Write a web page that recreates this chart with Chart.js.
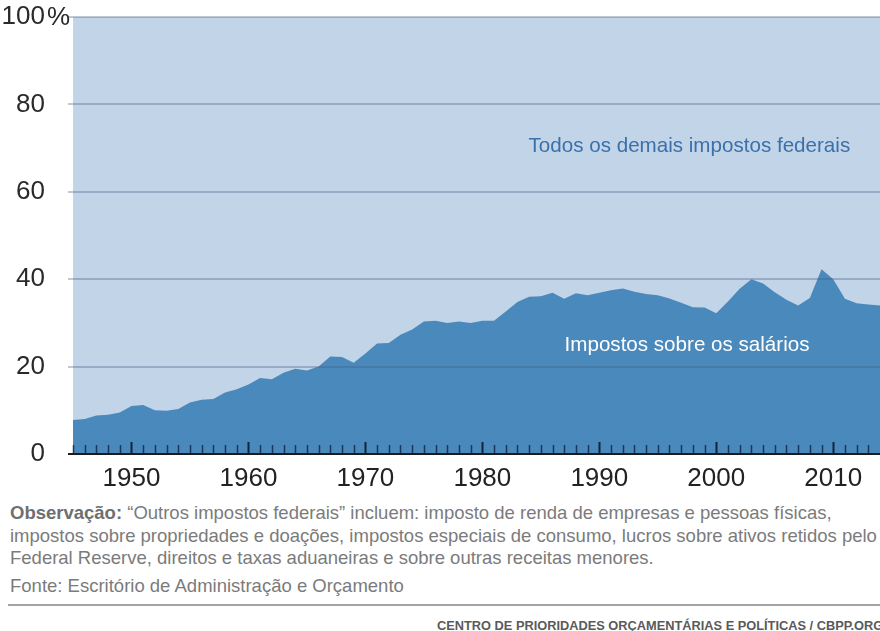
<!DOCTYPE html>
<html lang="pt">
<head>
<meta charset="utf-8">
<title>Impostos sobre os salários</title>
<script src="https://cdn.jsdelivr.net/npm/chart.js@4/dist/chart.umd.min.js"></script>
<style>
  html, body { margin: 0; padding: 0; background: #fff; overflow: hidden; }
  #wrap { position: relative; width: 880px; height: 631px; overflow: hidden; }
  #chartBox { position: absolute; left: 0; top: 0; width: 880px; height: 490px; }
  .note { position: absolute; left: 10px; font-family: 'Liberation Sans', Arial, sans-serif;
          font-size: 18.5px; line-height: 22.5px; color: #7b7b7b; white-space: nowrap; }
  .note b { color: #6f6f6f; }
  #rule { position: absolute; left: 8px; top: 604px; width: 872px; height: 2px; background: #a3a3a3; }
  #credit { position: absolute; left: 437px; top: 618px; font-family: 'Liberation Sans', Arial, sans-serif;
            font-size: 12.8px; font-weight: bold; color: #5a5a5a; white-space: nowrap; }
</style>
</head>
<body>
<div id="wrap">
  <div id="chartBox"><canvas id="chart"></canvas></div>
  <div class="note" style="top:502px"><b>Observação:</b> “Outros impostos federais” incluem: imposto de renda de empresas e pessoas físicas,<br>impostos sobre propriedades e doações, impostos especiais de consumo, lucros sobre ativos retidos pelo<br>Federal Reserve, direitos e taxas aduaneiras e sobre outras receitas menores.</div>
  <div class="note" style="top:575px">Fonte: Escritório de Administração e Orçamento</div>
  <div id="rule"></div>
  <div id="credit">CENTRO DE PRIORIDADES ORÇAMENTÁRIAS E POLÍTICAS / CBPP.ORG</div>
</div>
<script>
// ── Data (% of federal revenue from payroll taxes) ────────────────────────────
const years = [
  1945, 1946, 1947, 1948, 1949, 1950, 1951, 1952, 1953, 1954,
  1955, 1956, 1957, 1958, 1959, 1960, 1961, 1962, 1963, 1964,
  1965, 1966, 1967, 1968, 1969, 1970, 1971, 1972, 1973, 1974,
  1975, 1976, 1977, 1978, 1979, 1980, 1981, 1982, 1983, 1984,
  1985, 1986, 1987, 1988, 1989, 1990, 1991, 1992, 1993, 1994,
  1995, 1996, 1997, 1998, 1999, 2000, 2001, 2002, 2003, 2004,
  2005, 2006, 2007, 2008, 2009, 2010, 2011, 2012, 2013, 2014
];
const payrollShare = [
  7.8, 8.0, 8.8, 9.0, 9.5, 11.0, 11.2, 10.0, 9.9, 10.3,
  11.8, 12.4, 12.6, 14.1, 14.8, 15.9, 17.4, 17.1, 18.6, 19.5,
  19.1, 20.0, 22.3, 22.2, 20.9, 23.0, 25.3, 25.4, 27.3, 28.5,
  30.3, 30.5, 30.0, 30.3, 30.0, 30.5, 30.5, 32.6, 34.8, 36.0,
  36.1, 36.9, 35.5, 36.8, 36.3, 36.9, 37.5, 37.9, 37.1, 36.6,
  36.3, 35.6, 34.6, 33.6, 33.5, 32.2, 34.9, 37.8, 40.0, 39.0,
  37.0, 35.3, 34.0, 35.7, 42.3, 40.0, 35.5, 34.5, 34.2, 34.0
];
const xTickLabels = [1950, 1960, 1970, 1980, 1990, 2000, 2010];
const yTickLabels = [0, 20, 40, 60, 80, 100];
const seriesNames = ['Impostos sobre os salários', 'Todos os demais impostos federais'];

// ── Colours ───────────────────────────────────────────────────────────────────
const DARK_BLUE = '#4a89bc';
const LIGHT_BLUE = '#c2d4e8';
const TICK_FONT = "'Liberation Sans Narrow', 'Arial Narrow', sans-serif";

// ── Plugin: plot background, year ticks, area labels, % sign ─────────────────
const decorations = {
  id: 'decorations',
  beforeDraw(chart) {
    const { ctx, chartArea: a } = chart;
    ctx.save();
    ctx.fillStyle = LIGHT_BLUE;
    ctx.fillRect(a.left, a.top, a.right - a.left, a.bottom - a.top);
    ctx.restore();
  },
  afterDatasetsDraw(chart) {
    const { ctx, chartArea: a } = chart;
    const xs = chart.scales.x, ys = chart.scales.y;
    ctx.save();
    // small year ticks standing on the axis
    years.forEach(yr => {
      const px = Math.round(xs.getPixelForValue(yr)) + 0.5;
      if (px > a.right) return;
      const major = yr % 10 === 0;
      ctx.strokeStyle = major ? 'rgba(15,30,50,0.95)' : 'rgba(20,40,70,0.85)';
      ctx.lineWidth = major ? 2 : 1.5;
      ctx.beginPath();
      ctx.moveTo(px, a.bottom);
      ctx.lineTo(px, a.bottom - (major ? 12 : 9));
      ctx.stroke();
    });
    // area labels
    ctx.font = "20.6px 'Liberation Sans', Arial, sans-serif";
    ctx.textAlign = 'center';
    ctx.textBaseline = 'middle';
    ctx.fillStyle = '#3a71aa';
    ctx.fillText(seriesNames[1], xs.getPixelForValue(1997.7), ys.getPixelForValue(70.3));
    ctx.fillStyle = '#ffffff';
    ctx.fillText(seriesNames[0], xs.getPixelForValue(1997.5), ys.getPixelForValue(24.9));
    ctx.restore();
  },
  afterDraw(chart) {
    const { ctx } = chart;
    const ys = chart.scales.y;
    ctx.save();
    ctx.font = '26px ' + TICK_FONT;
    ctx.fillStyle = '#2a2a2a';
    ctx.textAlign = 'left';
    ctx.textBaseline = 'middle';
    ctx.fillText('%', ys.right - 5 - 23 + 2, ys.getPixelForValue(100) + 1);
    ctx.restore();
  }
};

new Chart(document.getElementById('chart'), {
  type: 'line',
  data: {
    datasets: [{
      label: seriesNames[0],
      data: years.map((yr, i) => ({ x: yr, y: payrollShare[i] })),
      fill: 'origin',
      backgroundColor: DARK_BLUE,
      borderWidth: 0,
      pointRadius: 0,
      tension: 0
    }]
  },
  options: {
    responsive: true,
    maintainAspectRatio: false,
    animation: false,
    layout: { padding: { top: 17, right: 0, bottom: 0, left: 0 } },
    plugins: { legend: { display: false }, tooltip: { enabled: false } },
    scales: {
      x: {
        type: 'linear',
        min: 1945,
        max: 2014,
        grid: { display: false, drawTicks: false },
        border: { display: false },
        afterBuildTicks: s => { s.ticks = xTickLabels.map(v => ({ value: v })); },
        afterFit: s => { s.height = 36; s.paddingLeft = 0; s.paddingRight = 0; },
        ticks: {
          padding: 9,
          color: '#222',
          font: { family: TICK_FONT, size: 26 },
          callback: v => String(v),
          maxRotation: 0
        }
      },
      y: {
        min: 0,
        max: 100,
        afterBuildTicks: s => { s.ticks = yTickLabels.map(v => ({ value: v })); },
        afterFit: s => { s.width = 73; s.paddingTop = 0; s.paddingBottom = 0; },
        border: { display: false },
        grid: {
          z: 1,
          tickLength: 5,
          color: c => c.tick.value === 0 ? '#1c1c1c' : 'rgba(70,95,130,0.34)',
          lineWidth: 2
        },
        ticks: {
          padding: 23,
          color: '#2a2a2a',
          font: { family: TICK_FONT, size: 26 },
          callback: v => String(v)
        }
      }
    }
  },
  plugins: [decorations]
});
</script>
</body>
</html>
